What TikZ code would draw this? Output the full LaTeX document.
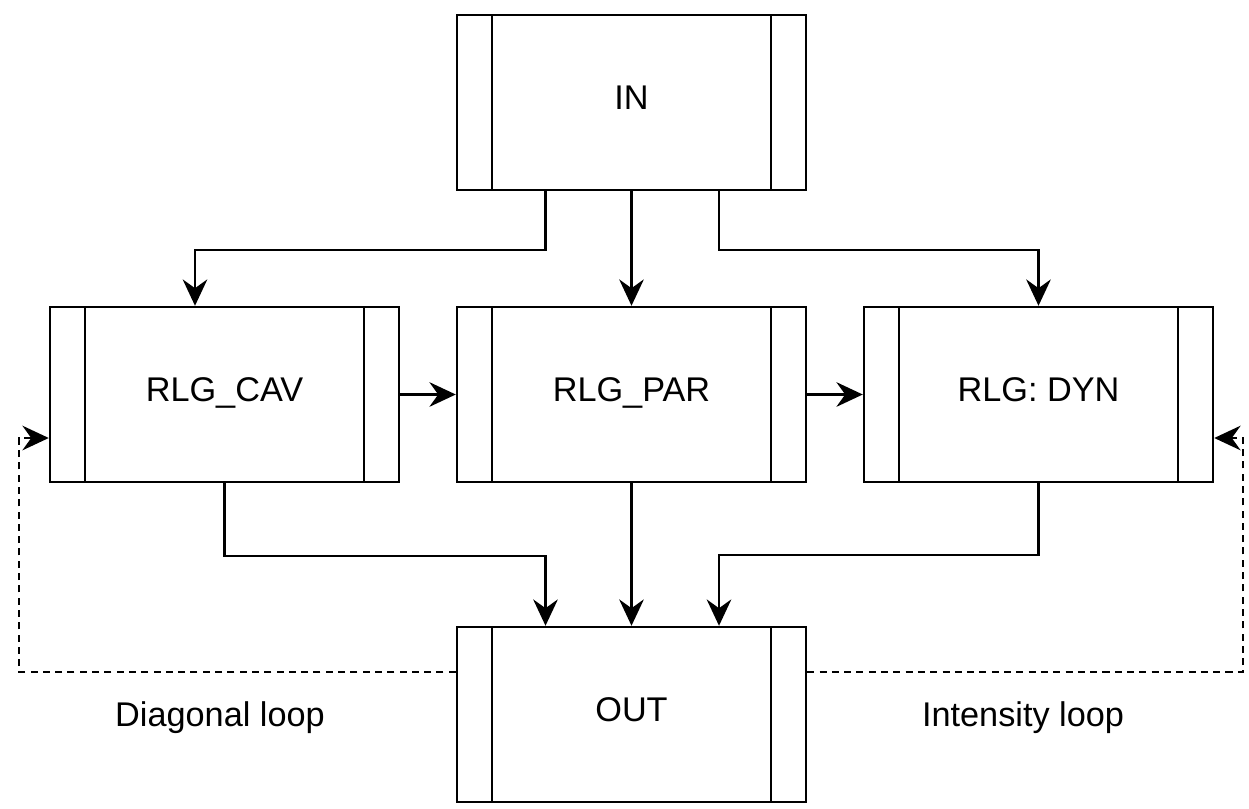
\documentclass[tikz,border=0pt]{standalone}
\usepackage{fontspec}
\setmainfont{Liberation Sans}
\usetikzlibrary{arrows.meta,positioning,calc}

\begin{document}
\begin{tikzpicture}[
    proc/.style={draw, line width=1.4pt, minimum width=6.98cm, minimum height=3.5cm, inner sep=0pt,
        text height=1.4ex, text depth=0pt,
        font=\fontsize{19.5}{23}\selectfont,
        path picture={
            \draw[line width=1.4pt] ([xshift=0.7cm]path picture bounding box.north west) -- ([xshift=0.7cm]path picture bounding box.south west);
            \draw[line width=1.4pt] ([xshift=-0.7cm]path picture bounding box.north east) -- ([xshift=-0.7cm]path picture bounding box.south east);
        }},
    arr/.style={-{Stealth[length=15pt, width=14pt, inset=5pt]}, line width=1.4pt},
    fb/.style={arr, dash pattern=on 4pt off 3pt},
    lbl/.style={font=\fontsize{19.5}{23}\selectfont}
]
\useasboundingbox (0,0) rectangle (24.98,-16.16);

\node[proc] (in)  at (12.63,-2.05)  {IN};
\node[proc] (cav) at (4.49,-7.89)   {RLG\_CAV};
\node[proc] (par) at (12.63,-7.89)  {RLG\_PAR};
\node[proc] (dyn) at (20.77,-7.89)  {RLG: DYN};
\node[proc] (out) at (12.63,-14.29) {OUT};

% from IN
\draw[arr] ([xshift=-1.72cm]in.south) -- ++(0,-1.18) -| ([xshift=-0.59cm]cav.north);
\draw[arr] (in.south) -- (par.north);
\draw[arr] ([xshift=1.75cm]in.south) -- ++(0,-1.18) -| (dyn.north);

\draw[arr] (cav.east) -- (par.west);
\draw[arr] (par.east) -- (dyn.west);

% to OUT
\draw[arr] (cav.south) -- ++(0,-1.46) -| ([xshift=-1.72cm]out.north);
\draw[arr] (par.south) -- (out.north);
\draw[arr] (dyn.south) -- ++(0,-1.44) -| ([xshift=1.75cm]out.north);

% feedback loops
\draw[fb] ([yshift=0.85cm]out.west) -- ++(-8.74,0) |- ([yshift=-0.87cm]cav.west);
\draw[fb] ([yshift=0.85cm]out.east) -- ++(8.72,0) |- ([yshift=-0.87cm]dyn.east);

\node[lbl] (diag) at (4.4,-14.36)   {Diagonal loop};
\node[lbl] (inten) at (20.46,-14.36) {Intensity loop};
\end{tikzpicture}
\end{document}
